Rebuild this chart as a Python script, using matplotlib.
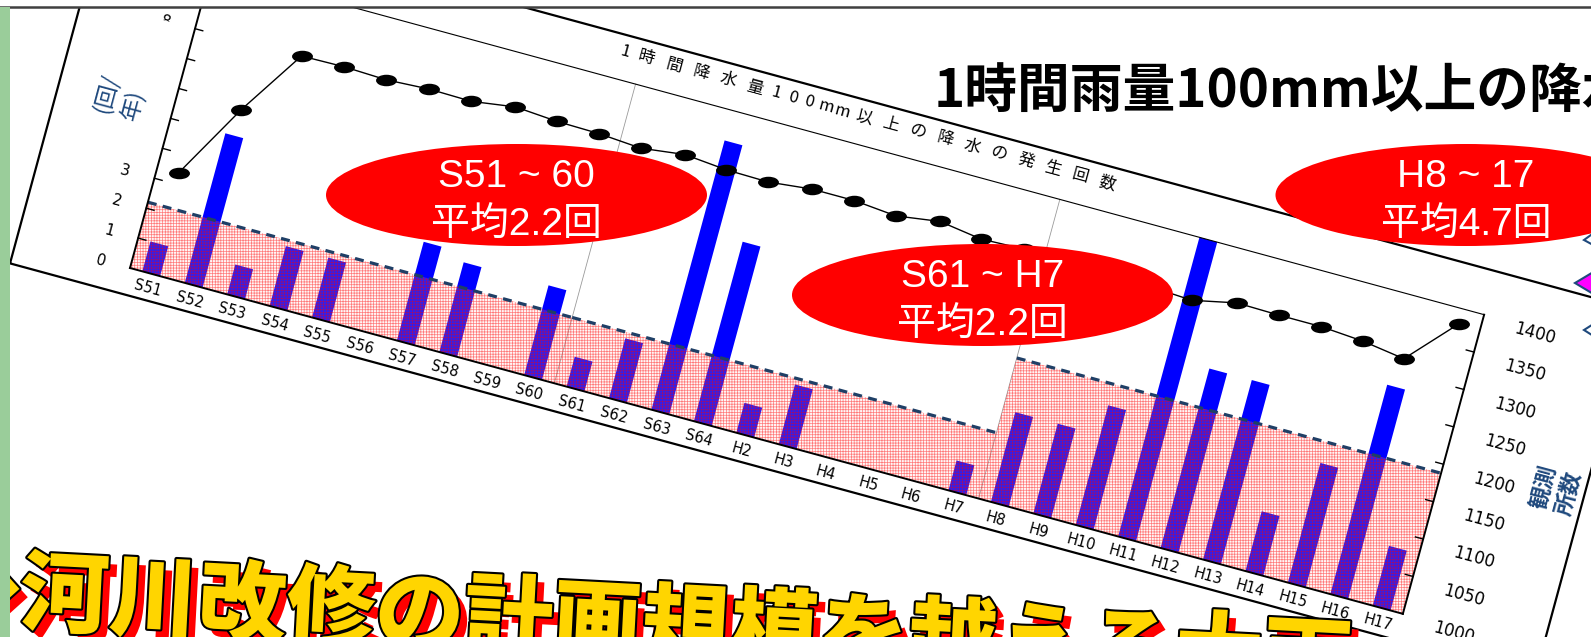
import numpy as np
import matplotlib
matplotlib.use("Agg")
import matplotlib.pyplot as plt
from matplotlib.transforms import Affine2D
from matplotlib.patches import Rectangle, Ellipse, Polygon
from matplotlib.path import Path
import matplotlib.patheffects as pe

# ---------------- data ----------------
categories = ["S51", "S52", "S53", "S54", "S55", "S56", "S57", "S58", "S59", "S60",
              "S61", "S62", "S63", "S64", "H2", "H3", "H4", "H5", "H6", "H7",
              "H8", "H9", "H10", "H11", "H12", "H13", "H14", "H15", "H16", "H17"]
counts = [1, 5, 1, 2, 2, 0, 3.3, 3, 0, 3,
          1, 2, 9, 6, 1, 2, 0, 0, 0, 1,
          3, 3, 4, 10, 6, 6, 2, 4, 7, 2]
stations = [1135, 1235, 1322, 1323, 1321, 1324, 1323, 1331, 1327, 1326,
            1322, 1329, 1324, 1323, 1329, 1329, 1324, 1332, 1324, 1326,
            1325, 1324, 1322, 1319, 1331, 1330, 1330, 1326, 1318, 1380]
period_first = [0, 10, 20]
period_last = [9, 19, 29]
period_mean = [2.2, 2.2, 4.7]
period_names = ["S51 ~ 60", "S61 ~ H7", "H8 ~ 17"]
period_means_txt = ["平均2.2回", "平均2.2回", "平均4.7回"]
left_ticks = [0, 1, 2, 3, 4, 5, 6, 7, 8, 9, 10]
left_labels = ["0", "1", "2", "3", "", "", "", "", "8", "", ""]
right_ticks = [1000, 1050, 1100, 1150, 1200, 1250, 1300, 1350, 1400]
right_labels = ["1000", "1050", "1100", "1150", "1200", "1250", "1300", "1350", "1400"]
chart_title = "1時間降水量100mm以上の降水の発生回数"
slide_title = "1時間雨量100mm以上の降水"
banner = "◆河川改修の計画規模を越える大雨"

NAVY = "#1F497D"
CJK = ["Noto Sans CJK JP", "DejaVu Sans"]

fig = plt.figure(figsize=(15.91, 6.37), dpi=100)
ax = fig.add_axes([0, 0, 1, 1])
ax.set_xlim(0, 1591)
ax.set_ylim(637, 0)
ax.axis("off")

# rotated chart frame (pixels along / across the tilted chart)
th = np.deg2rad(15.2)
c, s = np.cos(th), np.sin(th)
OX, OY = 130.0, 268.0
W, H = 1319.0, 310.0
ROT = -15.2
chart = Affine2D(np.array([[c, s, OX], [s, -c, OY], [0, 0, 1.0]])) + ax.transData
n = len(categories)
xs = np.arange(n)
pxu = W / n
left_tr = Affine2D().translate(0.5, 0).scale(pxu, H / 10) + chart
right_tr = Affine2D().translate(0.5, -1000).scale(pxu, H / 400) + chart

# outer chart frame
ax.add_patch(Rectangle((-117, -27), 1580, 382, transform=chart, fill=False,
                       ec="black", lw=1.6, zorder=1))

# vertical separators
for xb in [period_last[0] + 0.5, period_last[1] + 0.5]:
    ax.plot([xb, xb], [0, 10], transform=left_tr, color="#9A9A9A", lw=0.6, zorder=1)

# bars
ax.bar(xs, counts, width=0.42, color="#0000FF", transform=left_tr, zorder=2)

# hatched period means
plt.rcParams["hatch.linewidth"] = 0.5
for k in range(3):
    x0 = period_first[k] - 0.5
    w = period_last[k] - period_first[k] + 1
    ax.add_patch(Rectangle((x0, 0), w, period_mean[k], transform=left_tr,
                           facecolor=(1, 0.80, 0.80, 0.16), edgecolor=(1, 0, 0, 0.5),
                           lw=0, hatch="++++++", zorder=3))
    ax.plot([x0, x0 + w], [period_mean[k], period_mean[k]], transform=left_tr,
            color="#1F3F66", lw=2.3, ls=(0, (2.8, 2.0)), zorder=4)

# station count line
ell = Path.unit_circle().transformed(Affine2D().scale(1.0, 0.52))
ax.plot(xs, stations, transform=right_tr, color="black", lw=1.0,
        marker=ell, ms=14, mfc="black", mec="black", zorder=5)

# plot borders
ax.plot([-0.5, -0.5], [0, 10], transform=left_tr, color="black", lw=1.4, zorder=6)
ax.plot([-0.5, n - 0.5], [0, 0], transform=left_tr, color="black", lw=1.4, zorder=6)
ax.plot([n - 0.5, n - 0.5], [0, 10], transform=left_tr, color="black", lw=1.4, zorder=6)
ax.plot([-0.5, n - 0.5], [10, 10], transform=left_tr, color="black", lw=0.8, zorder=6)

tl = 8 / pxu
for v, lab in zip(left_ticks, left_labels):
    if 0 < v < 10:
        ax.plot([-0.5, -0.5 + tl], [v, v], transform=left_tr, color="black", lw=1.0, zorder=6)
    if lab:
        ax.text(-0.5 - 30 / pxu, v - 0.03, lab, transform=left_tr, rotation=ROT,
                rotation_mode="anchor", ha="center", va="center", fontsize=11,
                family="DejaVu Sans", zorder=6)
for v, lab in zip(right_ticks, right_labels):
    if 1000 < v < 1400:
        ax.plot([n - 0.5, n - 0.5 - tl], [v, v], transform=right_tr, color="black", lw=1.0, zorder=6)
    ax.text(n - 0.5 + 54 / pxu, v - 6.5, lab, transform=right_tr, rotation=ROT,
            rotation_mode="anchor", ha="center", va="center", fontsize=12,
            family="DejaVu Sans", zorder=6)
for i, lab in enumerate(categories):
    ax.text(i, -0.5, lab, transform=left_tr, rotation=ROT, rotation_mode="anchor",
            ha="center", va="center", fontsize=10.5, family="DejaVu Sans", zorder=6)

# white box hiding the middle left tick labels
ax.add_patch(Rectangle((-48, 105), 38, 143, transform=chart, fc="white", ec="none", zorder=6.5))

# chart title, letter-spaced along the tilted frame
pos = 421.0
prev = None
for ch in chart_title:
    adv = 17.0 if ord(ch) < 128 else 28.0
    if prev is not None:
        pos += (prev + adv) / 2
    ax.text(pos, 338, ch, transform=chart, rotation=ROT, rotation_mode="anchor",
            ha="center", va="center", fontsize=12, family=CJK, zorder=6)
    prev = adv

# axis titles
ax.text(120, 97, "(回/\n年)", rotation=75, ha="center", va="center", color=NAVY,
        fontsize=16.5, family=CJK, linespacing=1.3, multialignment="left", zorder=7)
ax.text(1557, 490, "観測\n所数", rotation=75, ha="center", va="center", color=NAVY,
        fontsize=16, fontweight="bold", family=CJK, linespacing=1.1, zorder=7)

# red ellipses
centers = [(516.5, 195), (982.5, 295), (1466, 195)]
for (cx, cy), t1, t2 in zip(centers, period_names, period_means_txt):
    ax.add_patch(Ellipse((cx, cy), 381, 102, fc="#FF0000", ec="none", zorder=7))
    ax.text(cx, cy - 8, t1, ha="center", va="baseline", color="white", fontsize=28,
            family=["Liberation Sans", "Noto Sans CJK JP"], zorder=8)
    ax.text(cx, cy + 41, t2, ha="center", va="baseline", color="white", fontsize=28,
            family=["Liberation Sans", "Noto Sans CJK JP"], zorder=8)

# slide title
ax.text(934, 108, slide_title, ha="left", va="baseline", fontsize=38, fontweight="bold",
        family=CJK, color="black", zorder=8)

# magenta arrow at right edge
ax.add_patch(Polygon([(1575, 283), (1595, 271), (1595, 295)], closed=True,
                     fc="#FF00FF", ec=NAVY, lw=1.5, zorder=8))
ax.add_patch(Polygon([(1584, 240), (1595, 232), (1595, 246)], closed=True,
                     fc="white", ec=NAVY, lw=1.5, zorder=8))
ax.add_patch(Polygon([(1584, 330), (1595, 323), (1595, 337)], closed=True,
                     fc="white", ec=NAVY, lw=1.5, zorder=8))

# big banner text (slanting slightly downwards)
ax.text(-70, 618, banner, ha="left", va="baseline", fontsize=64, fontweight="heavy",
        family=CJK, color="#FFD500", zorder=9, rotation=-3.0, rotation_mode="anchor",
        path_effects=[pe.SimplePatchShadow(offset=(6, -6), shadow_rgbFace="#FF0000", alpha=1.0),
                      pe.Stroke(linewidth=3, foreground="black"), pe.Normal()])

# slide chrome
ax.add_patch(Rectangle((0, 0), 1591, 7, fc="white", ec="none", zorder=10))
ax.plot([0, 1591], [7, 7], color="#404040", lw=1.8, zorder=11)
ax.add_patch(Rectangle((0, 7), 10, 630, fc="#9ACD9A", ec="none", zorder=11))

fig.savefig("out.png", dpi=100)
